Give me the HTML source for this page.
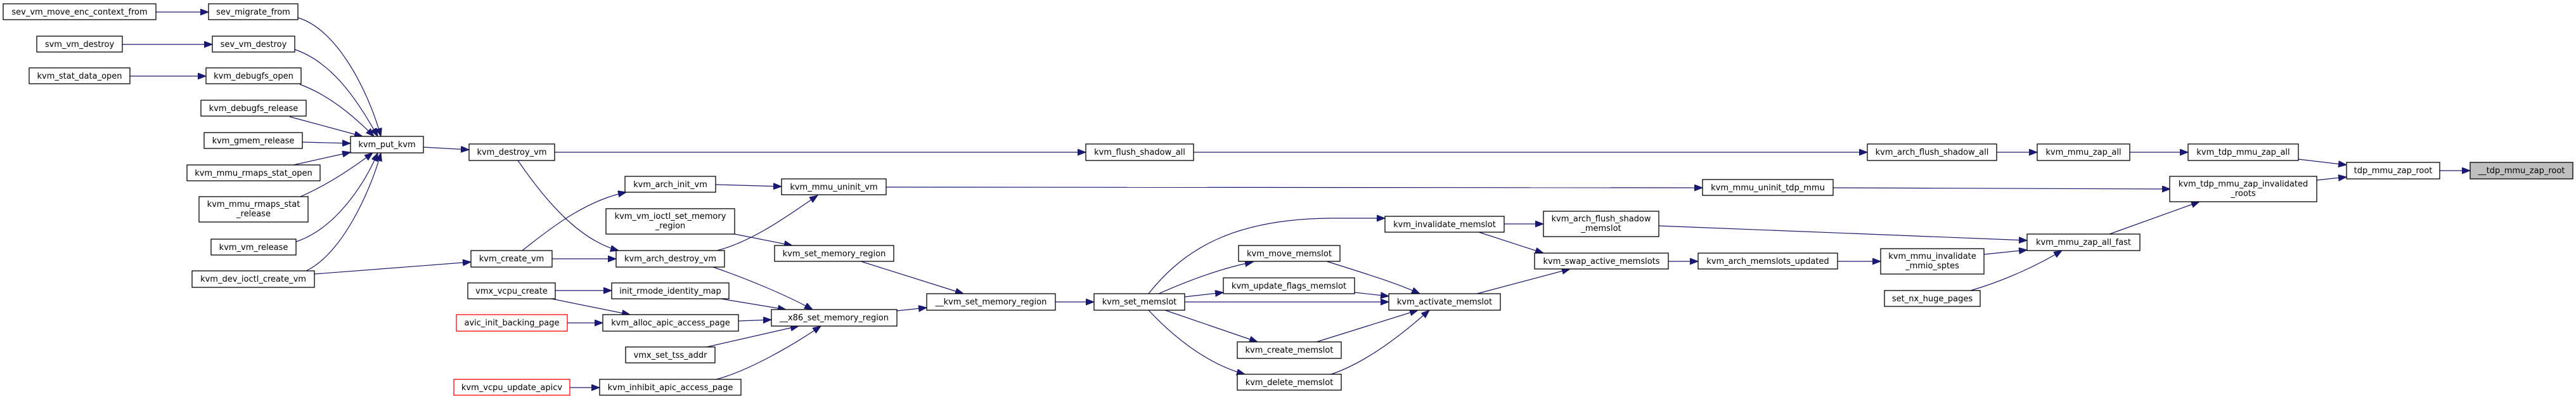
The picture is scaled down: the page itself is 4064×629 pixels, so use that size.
<!DOCTYPE html>
<html><head><meta charset="utf-8"><style>
html,body{margin:0;padding:0;background:#fff;}
svg{display:block}
text{font-family:"DejaVu Sans","Liberation Sans",sans-serif;font-size:13px;fill:#000;text-anchor:middle}
rect{fill:#fff;stroke:#000;stroke-width:1.3}
path.e{fill:none;stroke:#191970;stroke-width:1.2;marker-end:url(#a)}
</style></head><body>
<svg width="4064" height="629" viewBox="0 0 4064 629" xmlns="http://www.w3.org/2000/svg">
<defs><marker id="a" markerUnits="userSpaceOnUse" markerWidth="14" markerHeight="12" refX="13" refY="5" orient="auto"><path d="M0,0 L13,5 L0,10 Z" fill="#191970" stroke="#191970"/></marker></defs>
<g>
<path class="e" d="M246,19 L329,19"/>
<path class="e" d="M193,70 L335,70"/>
<path class="e" d="M205,120 L325,120"/>
<path class="e" d="M470,28 C530,45 580,140 601,215"/>
<path class="e" d="M465,78 C530,100 570,170 596,215"/>
<path class="e" d="M473,133 C520,150 560,185 590,215"/>
<path class="e" d="M457,184 L572,215"/>
<path class="e" d="M477,224 L553,226"/>
<path class="e" d="M463,260 L553,240"/>
<path class="e" d="M474,310 C520,290 560,262 588,241"/>
<path class="e" d="M467,381 C530,360 575,290 596,241"/>
<path class="e" d="M483,427 C540,400 585,300 601,241"/>
<path class="e" d="M668,232 L740,236"/>
<path class="e" d="M496,432 L743,413"/>
<path class="e" d="M875,240 L1713,240"/>
<path class="e" d="M817,253 C870,330 920,380 976,395"/>
<path class="e" d="M824,395 C880,350 930,315 988,303"/>
<path class="e" d="M871,408 L972,408"/>
<path class="e" d="M1129,291 L1233,294"/>
<path class="e" d="M1131,395 C1190,380 1250,335 1290,308"/>
<path class="e" d="M1125,421 C1180,440 1240,465 1282,488"/>
<path class="e" d="M1159,369 L1250,387"/>
<path class="e" d="M1358,412 L1520,463"/>
<path class="e" d="M876,458 L965,458"/>
<path class="e" d="M870,471 L994,496"/>
<path class="e" d="M895,509 L951,509"/>
<path class="e" d="M1137,471 L1240,488"/>
<path class="e" d="M1165,506 L1217,504"/>
<path class="e" d="M1115,547 L1260,514"/>
<path class="e" d="M1130,598 C1180,585 1250,545 1295,514"/>
<path class="e" d="M899,611 L946,611"/>
<path class="e" d="M1415,490 L1462,485"/>
<path class="e" d="M1665,476 L1726,476"/>
<path class="e" d="M1812,463 C1870,390 1950,345 2100,344 L2185,344"/>
<path class="e" d="M1828,463 C1880,440 1930,422 1977,413"/>
<path class="e" d="M1869,468 L1930,461"/>
<path class="e" d="M1869,476 L2191,476"/>
<path class="e" d="M1838,489 L1984,539"/>
<path class="e" d="M1812,489 C1860,540 1910,575 1964,590"/>
<path class="e" d="M2093,412 C2150,430 2200,445 2240,463"/>
<path class="e" d="M2137,461 L2191,467"/>
<path class="e" d="M2077,539 L2237,489"/>
<path class="e" d="M2100,590 C2160,570 2220,520 2255,489"/>
<path class="e" d="M2373,353 L2435,353"/>
<path class="e" d="M2333,366 L2435,399"/>
<path class="e" d="M2330,463 L2477,424"/>
<path class="e" d="M2632,412 L2679,412"/>
<path class="e" d="M2899,412 L2967,412"/>
<path class="e" d="M2617,356 L3198,379"/>
<path class="e" d="M3130,401 L3198,394"/>
<path class="e" d="M3109,458 C3170,440 3220,415 3253,395"/>
<path class="e" d="M1398,295 L2686,296"/>
<path class="e" d="M2892,296 L3424,298"/>
<path class="e" d="M3328,369 L3470,318"/>
<path class="e" d="M1883,240 L2946,240"/>
<path class="e" d="M3150,240 L3214,240"/>
<path class="e" d="M3360,240 L3452,240"/>
<path class="e" d="M3626,251 L3702,260"/>
<path class="e" d="M3655,284 L3702,279"/>
<path class="e" d="M3849,269 L3897,269"/>
</g>
<g>
<rect x="5" y="6" width="241" height="25"/><text x="125.5" y="23">sev_vm_move_enc_context_from</text>
<rect x="329" y="6" width="141" height="25"/><text x="399.5" y="23">sev_migrate_from</text>
<rect x="58" y="57" width="135" height="25"/><text x="125.5" y="74">svm_vm_destroy</text>
<rect x="335" y="57" width="130" height="25"/><text x="400" y="74">sev_vm_destroy</text>
<rect x="46" y="107" width="159" height="25"/><text x="125.5" y="124">kvm_stat_data_open</text>
<rect x="325" y="107" width="150" height="25"/><text x="400" y="124">kvm_debugfs_open</text>
<rect x="317" y="158" width="166" height="25"/><text x="400" y="175">kvm_debugfs_release</text>
<rect x="322" y="209" width="155" height="25"/><text x="399.5" y="226">kvm_gmem_release</text>
<rect x="553" y="215" width="115" height="26"/><text x="610.5" y="232">kvm_put_kvm</text>
<rect x="295" y="260" width="210" height="25"/><text x="400" y="277">kvm_mmu_rmaps_stat_open</text>
<rect x="314" y="310" width="172" height="40"/><text x="400" y="326">kvm_mmu_rmaps_stat</text><text x="400" y="341">_release</text>
<rect x="333" y="377" width="134" height="25"/><text x="400" y="394">kvm_vm_release</text>
<rect x="303" y="427" width="193" height="26"/><text x="399.5" y="444">kvm_dev_ioctl_create_vm</text>
<rect x="740" y="227" width="135" height="26"/><text x="807.5" y="244">kvm_destroy_vm</text>
<rect x="986" y="278" width="143" height="25"/><text x="1057.5" y="295">kvm_arch_init_vm</text>
<rect x="1233" y="282" width="165" height="25"/><text x="1315.5" y="299">kvm_mmu_uninit_vm</text>
<rect x="956" y="329" width="203" height="40"/><text x="1057.5" y="345">kvm_vm_ioctl_set_memory</text><text x="1057.5" y="360">_region</text>
<rect x="1222" y="387" width="188" height="25"/><text x="1316" y="404">kvm_set_memory_region</text>
<rect x="743" y="395" width="128" height="26"/><text x="807" y="412">kvm_create_vm</text>
<rect x="972" y="395" width="171" height="26"/><text x="1057.5" y="412">kvm_arch_destroy_vm</text>
<rect x="738" y="446" width="138" height="25"/><text x="807" y="463">vmx_vcpu_create</text>
<rect x="965" y="446" width="185" height="25"/><text x="1057.5" y="463">init_rmode_identity_map</text>
<rect x="720" y="496" width="175" height="26" style="stroke:#f00"/><text x="807.5" y="513">avic_init_backing_page</text>
<rect x="951" y="496" width="214" height="26"/><text x="1058" y="513">kvm_alloc_apic_access_page</text>
<rect x="1217" y="488" width="198" height="26"/><text x="1316" y="505">__x86_set_memory_region</text>
<rect x="987" y="547" width="141" height="25"/><text x="1057.5" y="564">vmx_set_tss_addr</text>
<rect x="716" y="598" width="183" height="25" style="stroke:#f00"/><text x="807.5" y="615">kvm_vcpu_update_apicv</text>
<rect x="946" y="598" width="223" height="25"/><text x="1057.5" y="615">kvm_inhibit_apic_access_page</text>
<rect x="1713" y="227" width="170" height="26"/><text x="1798" y="244">kvm_flush_shadow_all</text>
<rect x="1462" y="463" width="203" height="26"/><text x="1563.5" y="480">__kvm_set_memory_region</text>
<rect x="1726" y="463" width="143" height="26"/><text x="1797.5" y="480">kvm_set_memslot</text>
<rect x="1954" y="387" width="160" height="25"/><text x="2034" y="404">kvm_move_memslot</text>
<rect x="1930" y="438" width="207" height="25"/><text x="2033.5" y="455">kvm_update_flags_memslot</text>
<rect x="1952" y="539" width="164" height="26"/><text x="2034" y="556">kvm_create_memslot</text>
<rect x="1952" y="590" width="164" height="25"/><text x="2034" y="607">kvm_delete_memslot</text>
<rect x="2185" y="341" width="188" height="25"/><text x="2279" y="358">kvm_invalidate_memslot</text>
<rect x="2435" y="333" width="182" height="40"/><text x="2526" y="349">kvm_arch_flush_shadow</text><text x="2526" y="364">_memslot</text>
<rect x="2421" y="399" width="211" height="25"/><text x="2526.5" y="416">kvm_swap_active_memslots</text>
<rect x="2679" y="399" width="220" height="25"/><text x="2789" y="416">kvm_arch_memslots_updated</text>
<rect x="2191" y="463" width="176" height="26"/><text x="2279" y="480">kvm_activate_memslot</text>
<rect x="2686" y="283" width="206" height="25"/><text x="2789" y="300">kvm_mmu_uninit_tdp_mmu</text>
<rect x="2946" y="227" width="204" height="26"/><text x="3048" y="244">kvm_arch_flush_shadow_all</text>
<rect x="3214" y="227" width="146" height="26"/><text x="3287" y="244">kvm_mmu_zap_all</text>
<rect x="3452" y="227" width="174" height="26"/><text x="3539" y="244">kvm_tdp_mmu_zap_all</text>
<rect x="3423" y="278" width="232" height="40"/><text x="3539" y="294">kvm_tdp_mmu_zap_invalidated</text><text x="3539" y="309">_roots</text>
<rect x="3198" y="369" width="178" height="26"/><text x="3287" y="386">kvm_mmu_zap_all_fast</text>
<rect x="2967" y="392" width="163" height="40"/><text x="3048.5" y="408">kvm_mmu_invalidate</text><text x="3048.5" y="423">_mmio_sptes</text>
<rect x="2973" y="458" width="151" height="25"/><text x="3048.5" y="475">set_nx_huge_pages</text>
<rect x="3702" y="256" width="147" height="26"/><text x="3775.5" y="273">tdp_mmu_zap_root</text>
<rect x="3897" y="256" width="162" height="26" style="fill:#bfbfbf"/><text x="3978" y="273">__tdp_mmu_zap_root</text>
</g>
</svg>
</body></html>
